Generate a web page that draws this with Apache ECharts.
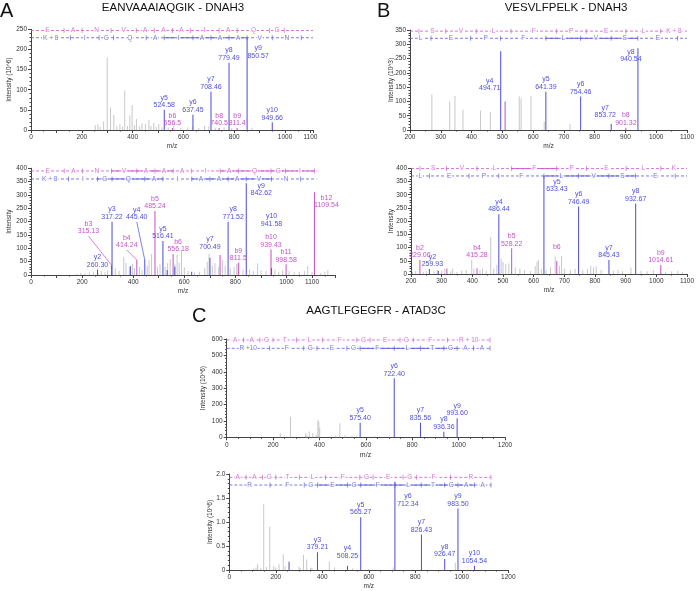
<!DOCTYPE html>
<html><head><meta charset="utf-8">
<script src="https://cdn.jsdelivr.net/npm/echarts@6/dist/echarts.min.js"></script>
<style>html,body{margin:0;padding:0;background:#fff}#c{width:697px;height:591px}</style>
</head><body><div id="c"></div>
<script>
// ---------------- DATA ----------------
// Panel A1: EANVAAAIAQGIK (heavy)
const a1IonNames = ['y5','b6','y6','y7','b8','y8','b9','y9','y10'];
const a1IonText  = ['524.58','556.5','637.45','708.46','740.5','779.49','811.4','850.57','949.66'];
const a1IonInt   = [50,5,38,95,5,167,5,229,19];
const a1BlueMz = [], a1BlueInt = [], a1MagMz = [], a1MagInt = [];
const a1GrayMz  = [253,263,272,286,300,313,326,338,350,360,369,380,389,398,407,415,428,437,450,464,472,483,493,503,515,540,562,590,617,635,660,683,700,725,760,790,870];
const a1GrayInt = [12,15,8,21,180,56,37,10,15,8,98,10,36,62,12,27,10,17,15,25,10,18,8,15,6,6,10,5,6,8,5,10,9,5,6,5,5];
const a1TopLetters = ['E','A','N','V','A','A','A','I','A','Q','G'];
const a1TopTicks   = [130.05,201.09,315.13,414.20,485.24,556.28,627.31,740.40,811.43,939.49,996.51];
const a1TopSolid   = [];
const a1BotLetters = ['K + 8','I','G','Q','A','I','A','A','A','V','N'];
const a1BotTicks   = [155.13,268.21,325.23,453.29,524.33,637.41,708.45,779.49,850.52,949.59,1063.63];
const a1BotSolid   = [5,6,7,8];

// Panel A2: EANVAAAIAQGIK (light)
const a2IonNames = ['y2','b3','y3','b4','y4','b5','y5','b6','y7','y8','b9','y9','b10','y10','b11','b12'];
const a2IonText  = ['260.30','315.13','317.22','414.24','445.40','485.24','516.41','556.18','700.49','771.52','811.5','842.62','939.43','941.58','998.58','1109.54'];
const a2IonInt   = [21,37,200,56,56,240,127,79,65,200,45,344,96,25,40,310];
const a2BlueMz = [389,533,563,629], a2BlueInt = [34,19,31,12];
const a2MagMz = [740], a2MagInt = [75];
const a2GrayMz  = [180,195,210,228,245,262,275,290,300,330,345,363,372,385,398,405,425,435,455,462,472,495,505,525,535,545,563,572,580,589,600,615,640,660,680,690,697,710,720,735,750,760,780,795,805,814,830,855,870,887,900,920,955,970,985,1010,1030,1050,1070,1083,1100,1135,1150,1162];
const a2GrayInt = [5,8,6,10,12,8,15,10,18,25,15,68,45,30,42,25,30,20,35,55,79,30,40,30,45,59,40,77,45,94,30,15,10,12,25,50,80,35,45,30,56,35,25,30,40,50,20,20,15,44,18,15,20,12,18,15,10,12,15,34,10,8,12,19];
const a2TopLetters = ['E','A','N','V','A','A','A','I','A','Q','G','I'];
const a2TopTicks   = [130.05,201.09,315.13,414.20,485.24,556.28,627.31,740.40,811.43,939.49,996.51,1109.6];
const a2TopSolid   = [3,4,5,8,9,10,11];
const a2BotLetters = ['K + 8','I','G','Q','A','I','A','A','A','V','N'];
const a2BotTicks   = [147.11,260.20,317.22,445.28,516.32,629.40,700.44,771.48,842.51,941.58,1055.6];
const a2BotSolid   = [2,3,4,6,7,8,9];

// Panel B1: VESVLFPELK (heavy)
const b1IonNames = ['y4','y5','y6','y7','b8','y8'];
const b1IonText  = ['494.71','641.39','754.46','853.72','901.32','940.54'];
const b1IonInt   = [276,134,117,21,8,286];
const b1BlueMz = [], b1BlueInt = [];
const b1MagMz = [509], b1MagInt = [100];
const b1GrayMz  = [271,329,346,372,429,461,555,561,593,636,720];
const b1GrayInt = [125,100,119,71,68,64,117,110,120,29,21];
const b1TopLetters = ['V','E','S','V','L','F','P','E','L','K + 8'];
const b1TopTicks   = [100.08,229.12,316.15,415.22,528.30,675.37,772.42,901.47,1014.55];
const b1TopSolid   = [];
const b1BotLetters = ['K + 8','L','E','P','F','L','V','S','E'];
const b1BotTicks   = [155.13,268.21,397.26,494.31,641.38,754.46,853.53,940.56,1069.6];
const b1BotSolid   = [5,6,7];

// Panel B2: VESVLFPELK (light)
const b2IonNames = ['b2','y2','b4','y4','b5','y5','b6','y6','y7','y8','b9'];
const b2IonText  = ['229.06','259.93','415.28','486.44','528.22','633.43','675.37','746.49','845.43','932.67','1014.61'];
const b2IonInt   = [53,19,22,226,97,371,49,255,53,267,34];
const b2BlueMz = [289], b2BlueInt = [12];
const b2MagMz = [317], b2MagInt = [21];
const b2GrayMz  = [205,215,240,250,275,285,300,310,330,336,350,365,380,398,405,425,433,445,460,470,480,494,500,509,519,540,555,570,590,605,611,616,625,640,655,670,684,691,700,720,735,760,775,786,795,804,820,860,875,890,917,950,970,990,1030,1050,1070,1085];
const b2GrayInt = [8,10,8,12,10,15,12,20,10,21,8,12,15,53,20,15,21,12,140,20,35,58,45,38,40,25,20,15,10,30,47,53,20,15,25,66,30,68,20,15,20,15,20,30,25,28,15,12,15,10,25,12,10,15,8,10,12,8];
const b2TopLetters = ['V','E','S','V','L','F','P','E','L','K'];
const b2TopTicks   = [100.08,229.12,316.15,415.22,528.30,675.37,772.42,901.47,1014.55];
const b2TopSolid   = [5];
const b2BotLetters = ['K','L','E','P','F','L','V','S','E'];
const b2BotTicks   = [147.11,260.20,389.24,486.29,633.36,746.45,845.51,932.55,1061.6];
const b2BotSolid   = [5,6,7];

// Panel C1: AAGTLFGEGFR (heavy)
const c1IonNames = ['y5','y6','y7','y8','y9'];
const c1IonText  = ['575.40','722.40','835.56','936.36','993.60'];
const c1IonInt   = [89,360,89,34,116];
const c1BlueMz = [], c1BlueInt = [], c1MagMz = [], c1MagInt = [];
const c1GrayMz  = [231,275,341,346,356,371,386,393,397,401,470,488,510,540,560,640,700];
const c1GrayInt = [24,126,25,12,35,25,15,106,96,60,10,85,14,8,10,6,5];
const c1TopLetters = ['A','A','G','T','L','F','G','E','G','F','R + 10'];
const c1TopTicks   = [72.04,143.08,200.10,301.15,414.23,561.30,618.32,747.37,804.39,951.46,1135.6];
const c1TopSolid   = [];
const c1BotLetters = ['R +10','F','G','E','G','F','L','T','G','A','A'];
const c1BotTicks   = [185.13,332.20,389.22,518.26,575.28,722.35,835.44,936.48,993.51,1064.5,1135.6];
const c1BotSolid   = [5,6,7,8];

// Panel C2: AAGTLFGEGFR (light)
const c2IonNames = ['y3','y4','y5','y6','y7','y8','y9','y10'];
const c2IonText  = ['379.21','508.25','565.27','712.34','826.43','926.47','983.50','1054.54'];
const c2IonInt   = [0.37,0.09,1.10,1.84,0.74,0.23,1.28,0.09];
const c2BlueMz = [257], c2BlueInt = [0.17], c2MagMz = [], c2MagInt = [];
const c2GrayMz  = [105,115,122,135,148,160,174,191,200,214,232,240,300,305,319,333,350,355,430,452,530,600,705,972];
const c2GrayInt = [0.03,0.05,0.13,0.04,1.37,0.06,0.90,0.08,0.05,0.12,0.33,0.08,0.06,0.04,0.32,0.22,0.04,0.05,0.17,0.05,0.03,0.02,0.05,0.15];
const c2TopLetters = ['A','A','G','T','L','F','G','E','G','F','R'];
const c2TopTicks   = [72.04,143.08,200.10,301.15,414.23,561.30,618.32,747.37,804.39,951.46,1125.6];
const c2TopSolid   = [];
const c2BotLetters = ['R','F','G','E','G','F','L','T','G','A','A'];
const c2BotTicks   = [175.12,322.19,379.21,508.25,565.27,712.34,825.43,926.47,983.50,1054.54,1125.6];
const c2BotSolid   = [3,4,5,6,7,8,9];

const titles = ['EANVAAAIAQGIK - DNAH3','VESVLFPELK - DNAH3','AAGTLFGEGFR - ATAD3C'];
const panelLetters = ['A','B','C'];
const xAxisTitle = 'm/z';

// ---------------- STYLE / LAYOUT ----------------
const FONT = '"Liberation Sans", Arial, sans-serif';
const BLUE = '#4b4bd8', MAG = '#c64fc6', GRAY = '#c8c8c8';
const LTOP = '#cc55cc', LBOT = '#5959de';

const panels = [
 {ions:[a1IonNames,a1IonText,a1IonInt], blue:[a1BlueMz,a1BlueInt], mag:[a1MagMz,a1MagInt], gray:[a1GrayMz,a1GrayInt],
  top:[a1TopLetters,a1TopTicks,a1TopSolid], bot:[a1BotLetters,a1BotTicks,a1BotSolid],
  grid:{left:31,top:29.3,width:282,height:100.7}, xMin:0,xMax:1110,xInt:100,xMinor:2, xShow:v=>v%200===0||v===1100,
  yMax:250,yInt:50,yMinor:5,yName:'Intensity (10^6)', yGap:18, ladY:[247,229], ladEnd:[1110,1110],
  off:{y9:[11,23]}, leader:{}},
 {ions:[a2IonNames,a2IonText,a2IonInt], blue:[a2BlueMz,a2BlueInt], mag:[a2MagMz,a2MagInt], gray:[a2GrayMz,a2GrayInt],
  top:[a2TopLetters,a2TopTicks,a2TopSolid], bot:[a2BotLetters,a2BotTicks,a2BotSolid],
  grid:{left:31,top:168.3,width:304,height:106.7}, xMin:0,xMax:1190,xInt:100,xMinor:2, xShow:v=>v%200===0||v===1100,
  yMax:400,yInt:50,yMinor:5,yName:'Intensity', yGap:18, ladY:[390,360], ladEnd:[1118,1118],
  off:{b3:[-23,-29], b4:[-10,-10], y4:[-8,-38], b6:[5,0], y7:[0,-6], y8:[5,0], y9:[15,15], y10:[0,-40], b12:[12,18]},
  leader:{b3:true, b4:true, y4:true}},
 {ions:[b1IonNames,b1IonText,b1IonInt], blue:[b1BlueMz,b1BlueInt], mag:[b1MagMz,b1MagInt], gray:[b1GrayMz,b1GrayInt],
  top:[b1TopLetters,b1TopTicks,b1TopSolid], bot:[b1BotLetters,b1BotTicks,b1BotSolid],
  grid:{left:410,top:30,width:280,height:100}, xMin:200,xMax:1100,xInt:100,xMinor:2, xShow:v=>true,
  yMax:350,yInt:50,yMinor:5,yName:'Intensity (10^3)', yGap:15, ladY:[346,321], ladEnd:[1100,1100],
  off:{y4:[-11,42], y7:[-6,-4], y8:[-7,16]}, leader:{}},
 {ions:[b2IonNames,b2IonText,b2IonInt], blue:[b2BlueMz,b2BlueInt], mag:[b2MagMz,b2MagInt], gray:[b2GrayMz,b2GrayInt],
  top:[b2TopLetters,b2TopTicks,b2TopSolid], bot:[b2BotLetters,b2BotTicks,b2BotSolid],
  grid:{left:411,top:168.3,width:279,height:105.7}, xMin:200,xMax:1100,xInt:100,xMinor:2, xShow:v=>true,
  yMax:400,yInt:50,yMinor:5,yName:'Intensity', yGap:16, ladY:[399,371], ladEnd:[1100,1100],
  off:{b4:[0,-8], y5:[13,18], b6:[0,-9], y2:[3,0]}, noText:{b6:true}, leader:{}},
 {ions:[c1IonNames,c1IonText,c1IonInt], blue:[c1BlueMz,c1BlueInt], mag:[c1MagMz,c1MagInt], gray:[c1GrayMz,c1GrayInt],
  top:[c1TopLetters,c1TopTicks,c1TopSolid], bot:[c1BotLetters,c1BotTicks,c1BotSolid],
  grid:{left:226.7,top:339,width:278.3,height:98.3}, xMin:0,xMax:1200,xInt:200,xMinor:4, xShow:v=>true,
  yMax:600,yInt:100,yMinor:5,yName:'Intensity (10^6)', yGap:20, ladY:[594,543], ladEnd:[1135.6,1135.6],
  off:{}, leader:{}, xNameGraphic:true},
 {ions:[c2IonNames,c2IonText,c2IonInt], blue:[c2BlueMz,c2BlueInt], mag:[c2MagMz,c2MagInt], gray:[c2GrayMz,c2GrayInt],
  top:[c2TopLetters,c2TopTicks,c2TopSolid], bot:[c2BotLetters,c2BotTicks,c2BotSolid],
  grid:{left:229.3,top:474,width:279,height:98.3}, xMin:0,xMax:1200,xInt:200,xMinor:4, xShow:v=>true,
  yMax:2.0,yInt:0.5,yMinor:5,yName:'Intensity (10^6)', yGap:16, ladY:[1.93,1.77], ladEnd:[1125.6,1125.6],
  off:{y6:[13,27], y4:[0,-5]}, yFmt:v=>v===0?'0':v.toFixed(1), leader:{}}
];

const grids=[], xAxes=[], yAxes=[], series=[];
const axisCol = '#444', txtCol = '#333';

panels.forEach((p, i) => {
  grids.push(Object.assign({containLabel:false}, p.grid));
  xAxes.push({type:'value', gridIndex:i, min:p.xMin, max:p.xMax, interval:p.xInt,
    axisLine:{show:true,onZero:false,lineStyle:{color:axisCol,width:1}},
    axisTick:{show:true,length:3,lineStyle:{color:axisCol}},
    minorTick:{show:true,splitNumber:p.xMinor,length:1.5,lineStyle:{color:axisCol}},
    splitLine:{show:false},
    axisLabel:{fontSize:6.5,color:txtCol,margin:4,fontFamily:FONT,showMaxLabel:true,hideOverlap:false,
      formatter:v=>p.xShow(v)?String(v):''},
    name:p.xNameGraphic ? '' : xAxisTitle, nameLocation:'middle', nameGap:13, nameMoveOverlap:false,
    nameTextStyle:{fontSize:6.5,color:txtCol,fontFamily:FONT}});
  yAxes.push({type:'value', gridIndex:i, min:0, max:p.yMax, interval:p.yInt,
    axisLine:{show:true,lineStyle:{color:axisCol,width:1}},
    axisTick:{show:true,length:3,lineStyle:{color:axisCol}},
    minorTick:{show:true,splitNumber:p.yMinor,length:1.5,lineStyle:{color:axisCol}},
    splitLine:{show:false},
    axisLabel:{fontSize:6.5,color:txtCol,margin:4,fontFamily:FONT,formatter:p.yFmt||(v=>String(v))},
    name:p.yName, nameLocation:'middle', nameGap:p.yGap, nameMoveOverlap:false,
    nameTextStyle:{fontSize:6.5,color:txtCol,fontFamily:FONT}});

  // peaks
  const data = [];
  p.gray[0].forEach((mz,k)=>data.push({value:[mz,p.gray[1][k]], itemStyle:{color:GRAY}}));
  p.blue[0].forEach((mz,k)=>data.push({value:[mz,p.blue[1][k]], itemStyle:{color:BLUE}}));
  p.mag[0].forEach((mz,k)=>data.push({value:[mz,p.mag[1][k]], itemStyle:{color:MAG}}));
  const [names, texts, ints] = p.ions;
  names.forEach((nm,k)=>{
    const col = nm[0]==='y' ? BLUE : MAG;
    const lblCol = nm[0]==='y' ? '#4f4fe0' : '#c255c8';
    const showText = !(p.noText && p.noText[nm]);
    data.push({value:[parseFloat(texts[k]), ints[k]], itemStyle:{color:col},
      label:{show:true, position:'top', distance:1, color:lblCol, fontSize:7, lineHeight:7.5, fontFamily:FONT,
        formatter: showText ? nm+'\n'+texts[k] : nm, offset:(p.off[nm]||[0,0])}});
  });
  series.push({type:'bar', xAxisIndex:i, yAxisIndex:i, barWidth:1, data, silent:true, animation:false, z:3});

  // ladders
  [[p.top, p.ladY[0], p.ladEnd[0], LTOP],[p.bot, p.ladY[1], p.ladEnd[1], LBOT]].forEach(([lad, y, end, col])=>{
    const [letters, ticks, solid] = lad;
    series.push({type:'line', xAxisIndex:i, yAxisIndex:i, data:[[p.xMin,y],[end,y]], symbol:'none', silent:true,
      lineStyle:{color:col,width:0.8,type:[3,2]}, animation:false, z:4});
    let run = [];
    const flush = ()=>{ if(run.length){ series.push({type:'line', xAxisIndex:i, yAxisIndex:i, data:run, symbol:'none', silent:true,
        lineStyle:{color:col,width:0.9}, animation:false, z:4}); run=[]; } };
    for (let k=0;k<letters.length;k++){
      if (solid.indexOf(k)>=0){
        const lo = Math.max(p.xMin, k===0?p.xMin:ticks[k-1]);
        const hi = Math.min(end, k<ticks.length?ticks[k]:end);
        if (!run.length) run.push([lo,y]);
        run.push([hi,y]);
      } else flush();
    }
    flush();
    const tickData = ticks.filter(t=>t>=p.xMin && t<=end).map(t=>[t,y]);
    series.push({type:'scatter', xAxisIndex:i, yAxisIndex:i, data:tickData, symbol:'rect', symbolSize:[0.8,5],
      itemStyle:{color:col}, silent:true, animation:false, z:5});
    const letData = [];
    letters.forEach((L,k)=>{
      const rawLo = k===0?0:ticks[k-1];
      const rawHi = k<ticks.length?ticks[k]:end;
      if ((rawLo+rawHi)/2 < p.xMin) return;
      const lo = Math.max(p.xMin, rawLo);
      const hi = Math.min(end, rawHi);
      if (hi>lo) letData.push([(lo+hi)/2, y, L]);
    });
    series.push({type:'scatter', xAxisIndex:i, yAxisIndex:i, data:letData, symbolSize:1,
      itemStyle:{color:'rgba(0,0,0,0)'}, silent:true, animation:false, z:6,
      label:{show:true, position:'inside', formatter:q=>q.data[2], fontSize:6.5, color:col, fontFamily:FONT,
        backgroundColor:'#fff', padding:[0,1]}});
  });
});

const graphics = [
  {type:'text', left:0, top:1, style:{text:panelLetters[0], font:'20px '+FONT, fill:'#111'}},
  {type:'text', left:377, top:1, style:{text:panelLetters[1], font:'20px '+FONT, fill:'#111'}},
  {type:'text', left:192, top:306, style:{text:panelLetters[2], font:'20px '+FONT, fill:'#111'}},
  {type:'text', x:173, y:8, style:{text:titles[0], font:'11.5px '+FONT, fill:'#111', textAlign:'center', textVerticalAlign:'middle'}},
  {type:'text', x:566, y:8, style:{text:titles[1], font:'11.5px '+FONT, fill:'#111', textAlign:'center', textVerticalAlign:'middle'}},
  {type:'text', x:376, y:311, style:{text:titles[2], font:'11.5px '+FONT, fill:'#111', textAlign:'center', textVerticalAlign:'middle'}}
];

panels.forEach(p=>{
  if (p.xNameGraphic) {
    const g = p.grid;
    graphics.push({type:'text', silent:true, z:100, left:g.left+g.width/2-6, top:g.top+g.height+14,
      style:{text:xAxisTitle, font:'7px '+FONT, fill:txtCol}});
  }
});

const chart = echarts.init(document.getElementById('c'), null, {renderer:'canvas'});
chart.setOption({animation:false, backgroundColor:'#fff', grid:grids, xAxis:xAxes, yAxis:yAxes, series, graphic:graphics});

// leader lines from labelled peaks to displaced labels (pixel positions derived from the axes)
const extra = [];
panels.forEach((p,i)=>{
  const [names, texts, ints] = p.ions;
  names.forEach((nm,k)=>{
    if (!p.leader[nm]) return;
    const pt = chart.convertToPixel({gridIndex:i}, [parseFloat(texts[k]), ints[k]]);
    const o = p.off[nm] || [0,0];
    const col = nm[0]==='y' ? BLUE : MAG;
    extra.push({type:'line', silent:true, z:2,
      shape:{x1:pt[0], y1:pt[1], x2:pt[0]+o[0], y2:pt[1]+o[1]},
      style:{stroke:col, lineWidth:0.7}});
  });
});
chart.setOption({graphic:graphics.concat(extra)});
</script></body></html>
